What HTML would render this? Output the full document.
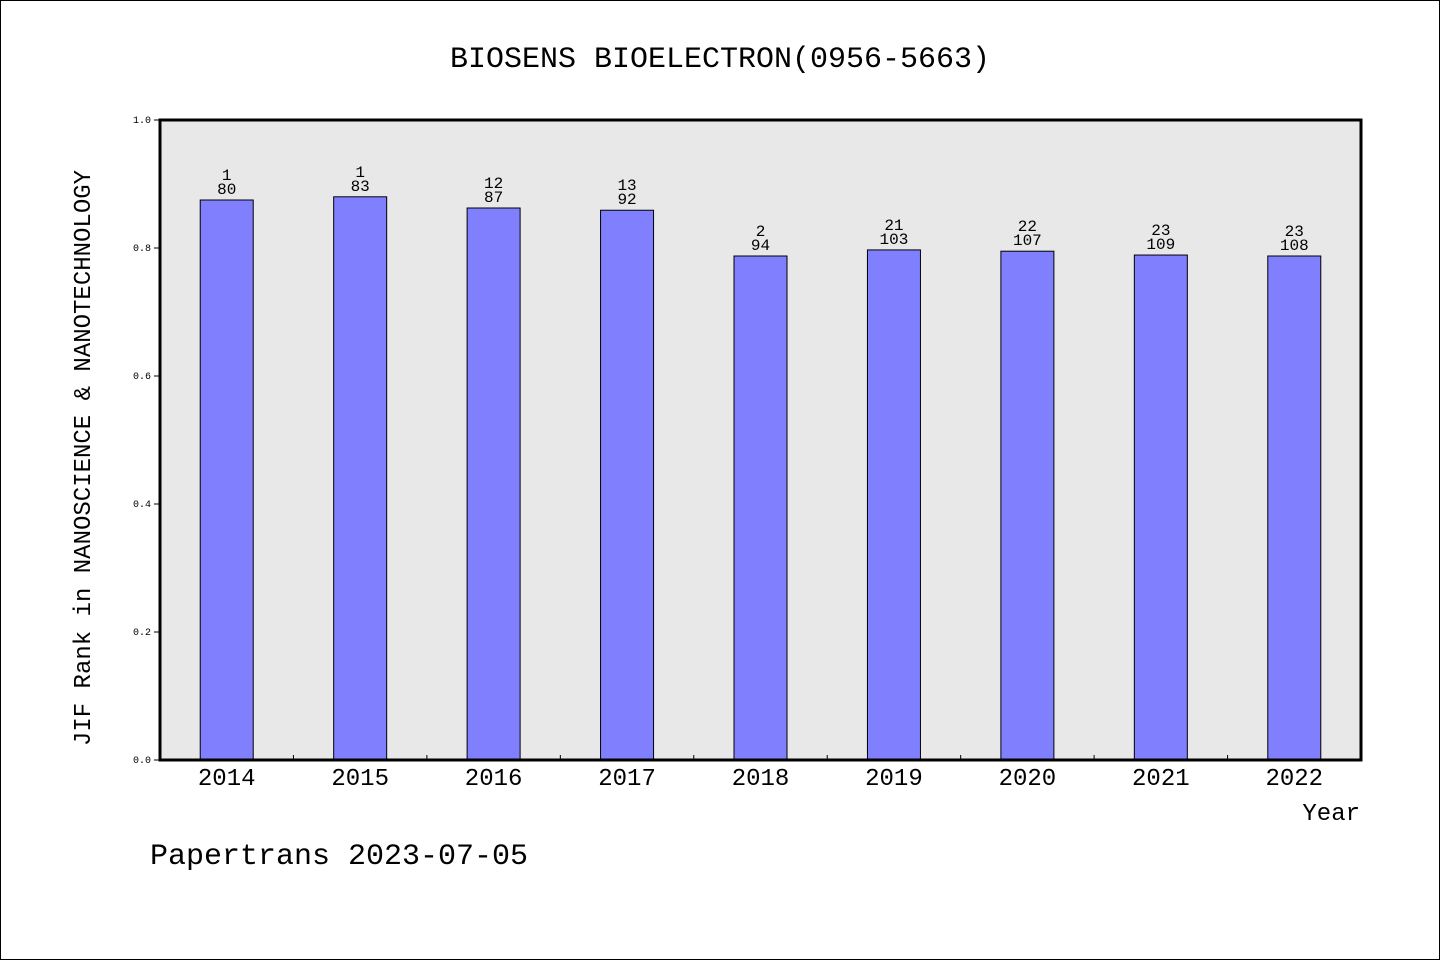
<!DOCTYPE html>
<html><head><meta charset="utf-8"><style>
html,body{margin:0;padding:0;background:#fff}
svg text{font-family:"Liberation Mono","WenQuanYi Zen Hei",monospace;fill:#000}
</style></head><body>
<svg width="1440" height="960" xmlns="http://www.w3.org/2000/svg">
<rect x="0.5" y="0.5" width="1439" height="959" fill="#fff" stroke="#000"/>
<text x="720" y="67" font-size="30" text-anchor="middle">BIOSENS BIOELECTRON(0956-5663)</text>
<rect x="160" y="120" width="1201" height="640" fill="#e8e8e8"/>
<g id="bars"></g>
<rect x="160" y="120" width="1201" height="640" fill="none" stroke="#000" stroke-width="3"/>
<text transform="translate(90,458) rotate(-90)" font-size="24" text-anchor="middle">JIF Rank in NANOSCIENCE &amp; NANOTECHNOLOGY</text>
<text x="1360" y="820" font-size="24" text-anchor="end">Year</text>
<text x="150" y="864" font-size="30">Papertrans 2023-07-05</text>
</svg>
<script>
const years=["2014","2015","2016","2017","2018","2019","2020","2021","2022"];
const values=[0.875,0.880,0.8625,0.859,0.7875,0.797,0.795,0.789,0.7875];
const ranks=["1","1","12","13","2","21","22","23","23"];
const totals=["80","83","87","92","94","103","107","109","108"];
const yTicks=[0,0.2,0.4,0.6,0.8,1.0];
const X0=160,W=1201,Y0=760,H=640;
const bw=W/years.length;
const y=v=>Y0-v*H;
const xc=i=>X0+bw*(i+0.5);
const g=document.getElementById('bars');
const NS='http://www.w3.org/2000/svg';
function mk(t,a){const e=document.createElementNS(NS,t);for(const k in a)e.setAttribute(k,a[k]);g.appendChild(e);return e;}
years.forEach((yr,i)=>{
 const r=mk('rect',{x:xc(i)-26.5,y:y(values[i]),width:53,height:Y0-y(values[i]),fill:'#8080ff',stroke:'#000','stroke-width':1});
 
 
 const t1=mk('text',{x:xc(i),y:y(values[i])-20,'font-size':16,'text-anchor':'middle'});t1.textContent=ranks[i];
 
 
 const t2=mk('text',{x:xc(i),y:y(values[i])-6,'font-size':16,'text-anchor':'middle'});t2.textContent=totals[i];
 
 
 const xl=mk('text',{x:xc(i),y:785,'font-size':24,'text-anchor':'middle'});xl.textContent=yr;
 
 
 if(i>0){const tk=mk('line',{x1:X0+bw*i,x2:X0+bw*i,y1:Y0,y2:Y0-5,stroke:'#000'});
 
 }
});
yTicks.forEach(v=>{
 const l=mk('line',{x1:X0-6,x2:X0,y1:y(v),y2:y(v),stroke:'#000'});
 
 
 const t=mk('text',{x:X0-9,y:y(v)+3,'font-size':10,'text-anchor':'end'});t.textContent=v.toFixed(1);
 
 
});
</script>
</body></html>
